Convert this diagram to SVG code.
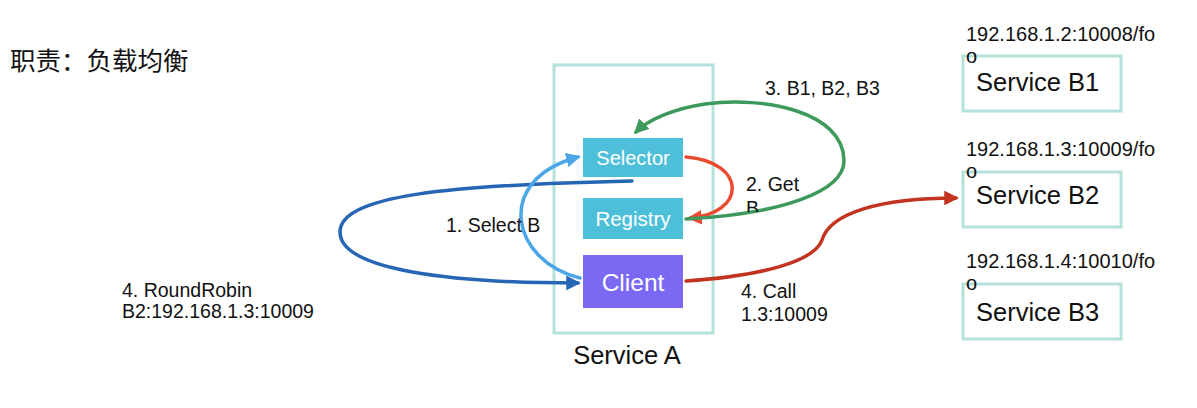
<svg xmlns="http://www.w3.org/2000/svg" width="1197" height="408" viewBox="0 0 1197 408">
<style>
text{font-family:"Liberation Sans",Arial,"Noto Sans CJK SC",sans-serif;fill:#111}
.box{fill:none;stroke:#b4e2da;stroke-width:3}
.inner{fill:#4ebfd9}
.wt{fill:#fff;text-anchor:middle}
.lbl{font-size:19.5px}
.ip{font-size:20px}
.svc{font-size:25.5px}
.c{fill:none;stroke-width:3.5;stroke-linecap:round}
</style>
<defs>
<marker id="mDB" viewBox="0 0 10 10" refX="8" refY="5" markerWidth="4.2" markerHeight="4.2" orient="auto" markerUnits="strokeWidth"><path d="M0,0L10,5L0,10z" fill="#2766b5"/></marker>
<marker id="mLB" viewBox="0 0 10 10" refX="8" refY="5" markerWidth="4.2" markerHeight="4.2" orient="auto" markerUnits="strokeWidth"><path d="M0,0L10,5L0,10z" fill="#4aa6e6"/></marker>
<marker id="mR" viewBox="0 0 10 10" refX="8" refY="5" markerWidth="4.2" markerHeight="4.2" orient="auto" markerUnits="strokeWidth"><path d="M0,0L10,5L0,10z" fill="#ec4a30"/></marker>
<marker id="mG" viewBox="0 0 10 10" refX="8" refY="5" markerWidth="4.2" markerHeight="4.2" orient="auto" markerUnits="strokeWidth"><path d="M0,0L10,5L0,10z" fill="#3d9a5c"/></marker>
<marker id="mDR" viewBox="0 0 10 10" refX="8" refY="5" markerWidth="4.2" markerHeight="4.2" orient="auto" markerUnits="strokeWidth"><path d="M0,0L10,5L0,10z" fill="#c23420"/></marker>
<clipPath id="clipB"><rect x="740" y="196" width="40" height="16"/></clipPath>
</defs>
<rect width="1197" height="408" fill="#fff"/>
<text x="10" y="70" font-size="25.5">职责：负载均衡</text>

<g id="serviceA">
<rect class="box" x="554" y="65" width="159" height="268"/>
<text x="627" y="364" class="svc" text-anchor="middle">Service A</text>
</g>
<g id="selector">
<rect class="inner" x="583" y="138" width="100" height="39"/>
<text class="wt" x="633" y="165" font-size="20">Selector</text>
</g>
<g id="registry">
<rect class="inner" x="583" y="198" width="100" height="41"/>
<text class="wt" x="633" y="226" font-size="20.5">Registry</text>
</g>
<g id="client">
<rect x="583" y="255" width="100" height="53" fill="#7b69f4"/>
<text class="wt" x="633" y="291" font-size="24.5">Client</text>
</g>

<g id="serviceB1">
<rect class="box" x="963" y="56" width="158" height="55"/>
<text class="ip" x="966" y="41">192.168.1.2:10008/fo</text>
<text class="ip" x="966" y="63">o</text>
<text class="svc" x="976" y="91">Service B1</text>
</g>
<g id="serviceB2">
<rect class="box" x="963" y="172" width="158" height="55"/>
<text class="ip" x="966" y="156">192.168.1.3:10009/fo</text>
<text class="ip" x="966" y="178">o</text>
<text class="svc" x="976" y="204">Service B2</text>
</g>
<g id="serviceB3">
<rect class="box" x="963" y="284" width="158" height="55"/>
<text class="ip" x="966" y="268">192.168.1.4:10010/fo</text>
<text class="ip" x="966" y="290">o</text>
<text class="svc" x="976" y="321">Service B3</text>
</g>

<g id="connectors">
<path class="c" stroke="#2766b5" d="M632 181 C450 185 340 195 340 232 C340 270 450 283 578 283" marker-end="url(#mDB)"/>
<path class="c" stroke="#4aa6e6" d="M580 278 C512 262 492 180 578 157" marker-end="url(#mLB)"/>
<path class="c" stroke="#ec4a30" d="M686 157 C748 162 746 214 690 218" marker-end="url(#mR)"/>
<path class="c" stroke="#3d9a5c" d="M686 219 C780 214 845 192 844 160 C843 112 765 96 705 104 C672 109 648 120 636 132" marker-end="url(#mG)"/>
<path class="c" stroke="#c23420" d="M686 281 C760 276 814 262 822 240 C830 213 880 198 956 198" marker-end="url(#mDR)"/>
</g>

<g id="labels">
<text class="lbl" x="122" y="297">4. RoundRobin</text>
<text class="lbl" x="122" y="318">B2:192.168.1.3:10009</text>
<text class="lbl" x="446" y="232">1. Select B</text>
<text class="lbl" x="765" y="95">3. B1, B2, B3</text>
<text class="lbl" x="746" y="191">2. Get</text>
<text class="lbl" x="746" y="215" clip-path="url(#clipB)">B</text>
<text class="lbl" x="741" y="298">4. Call</text>
<text class="lbl" x="741" y="321">1.3:10009</text>
</g>
</svg>
